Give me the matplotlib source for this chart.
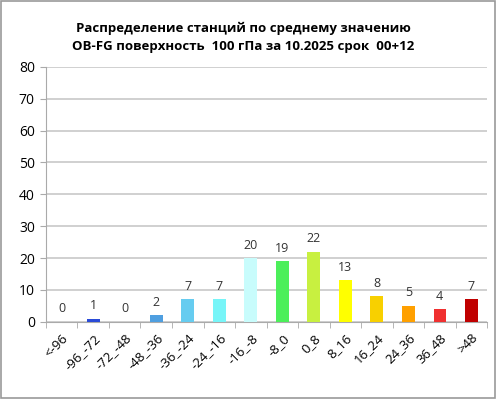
import matplotlib.pyplot as plt
import numpy as np
from matplotlib.patches import Rectangle

categories = ['<-96', '-96_-72', '-72_-48', '-48_-36', '-36_-24', '-24_-16', '-16_-8',
              '-8_0', '0_8', '8_16', '16_24', '24_36', '36_48', '>48']
counts = [0, 1, 0, 2, 7, 7, 20, 19, 22, 13, 8, 5, 4, 7]
colors = ['#2a4bd7', '#2a4bd7', '#2a4bd7', '#4f9fe0', '#66ccf0', '#77f5f8', '#c8fcfc',
          '#4cef5a', '#c8f040', '#ffff00', '#f8d000', '#ffa000', '#f03030', '#c00000']
title = 'Распределение станций по среднему значению\nOB-FG поверхность  100 гПа за 10.2025 срок  00+12'

plt.rcParams['font.family'] = ['Open Sans', 'DejaVu Sans']

fig = plt.figure(figsize=(4.96, 3.99), dpi=100)
ax = fig.add_axes([0.0927, 0.1937, 0.8893, 0.6386])

x = np.arange(len(categories))
ax.bar(x, counts, width=0.4, color=colors, zorder=3)
for xi, v in zip(x, counts):
    ax.text(xi, v + 2, str(v), ha='center', va='bottom', fontsize=9, color='#333333')

ax.set_xlim(-0.5, len(categories) - 0.5)
ax.set_ylim(0, 80)
ax.set_yticks(range(0, 81, 10))
ax.yaxis.grid(True, color='#c8c8c8', linewidth=1.2, zorder=0)
ax.set_xticks(x)
ax.set_xticklabels(categories, rotation=45, ha='right', rotation_mode='anchor', fontsize=9.5)
ax.tick_params(axis='x', which='major', length=0, pad=7)
ax.set_xticks(np.arange(-0.5, len(categories), 1), minor=True)
ax.tick_params(axis='x', which='minor', length=4, color='#aaaaaa', direction='out')
ax.tick_params(axis='y', labelsize=10, length=4, color='#aaaaaa', pad=4)
for s in ['top', 'right']:
    ax.spines[s].set_visible(False)
for s in ['left', 'bottom']:
    ax.spines[s].set_color('#aaaaaa')

fig.text(0.49, 0.905, title, ha='center', va='center', fontsize=9.5, fontweight='bold',
         linespacing=1.5)

fig.patches.append(Rectangle((0.002, 0.003), 0.996, 0.994, transform=fig.transFigure,
                             fill=False, edgecolor='#999999', linewidth=1.2))

fig.savefig('out.png', dpi=100)
